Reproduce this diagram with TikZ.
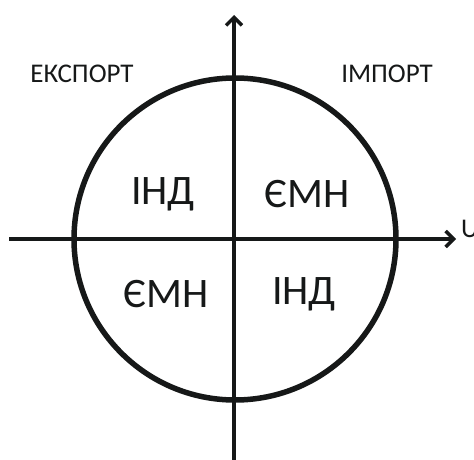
\documentclass[tikz,border=0pt]{standalone}
\usepackage{fontspec}
\setmainfont{Carlito}
\usetikzlibrary{arrows.meta,positioning}
\definecolor{inkblack}{RGB}{22,24,24}

\begin{document}
\begin{tikzpicture}[x=1pt,y=-1pt,>={Straight Barb[length=8pt,width=16pt]}]
\tikzstyle{axis}=[->,line width=3.5pt,inkblack]
\tikzstyle{quad}=[font=\fontsize{42}{42}\selectfont,text=inkblack,inner sep=0pt]
\tikzstyle{side}=[font=\fontsize{27}{27}\selectfont,text=inkblack,inner sep=0pt]
\useasboundingbox (0,0) rectangle (474,460);

\coordinate (o) at (235,239);
\coordinate (xl) at (9,239);
\coordinate (xr) at (456,239);
\coordinate (yb) at (234,462);
\coordinate (yt) at (234,15);

\draw[line width=5.5pt,inkblack] (o) circle (161);
\draw[axis] (xl)--(xr);
\draw[axis] (yb)--(yt);

\node[side,anchor=base west] (u) at (461,237) {U};
\node[side] (exp) at (82,74) {ЕКСПОРТ};
\node[side] (imp) at (387,74) {ІМПОРТ};

\node[quad] (q2) at (163,194) {ІНД};
\node[quad] (q1) at (307,194) {ЄМН};
\node[quad] (q3) at (166,294) {ЄМН};
\node[quad] (q4) at (304,294) {ІНД};
\end{tikzpicture}
\end{document}
